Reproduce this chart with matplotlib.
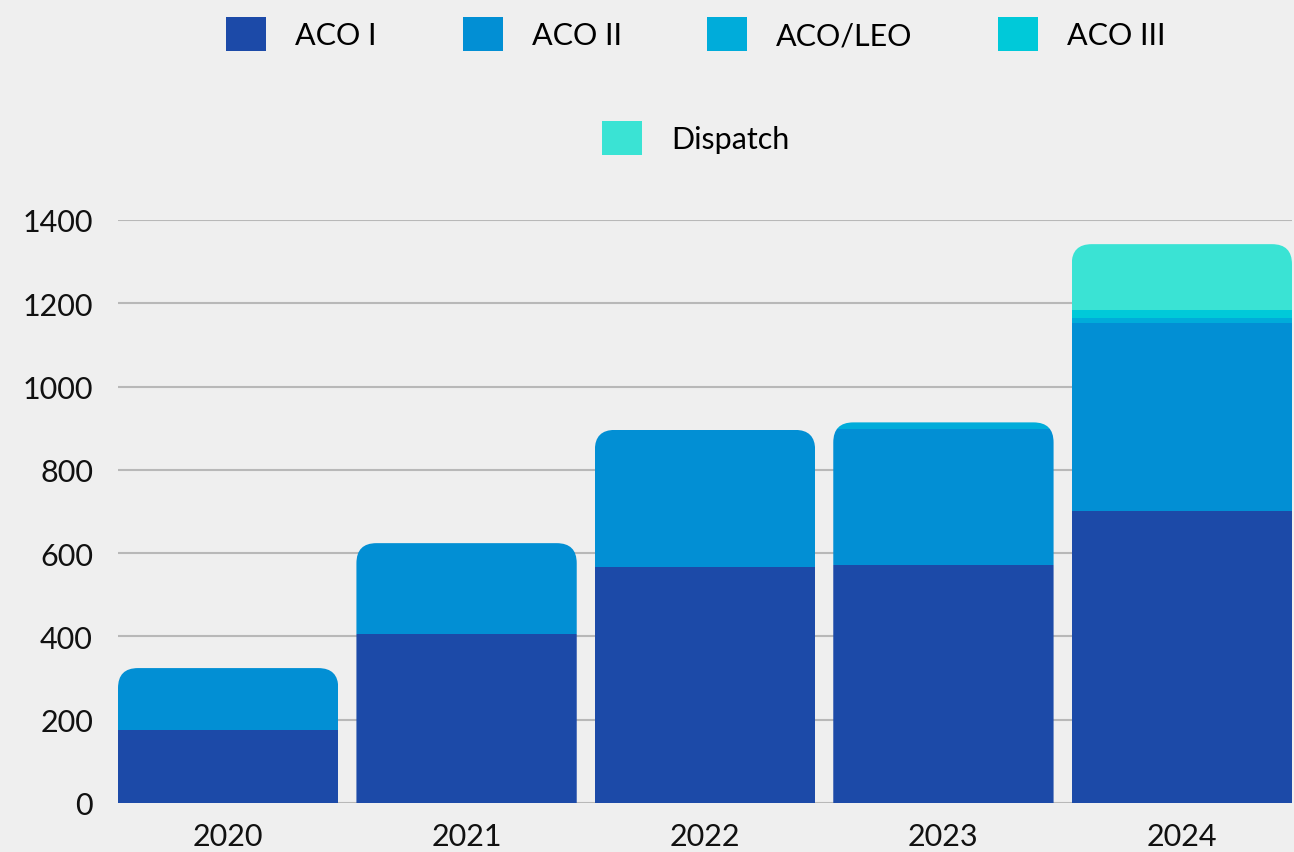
"""Stacked yearly bars per ACO program, rounded stack tops."""

import matplotlib
matplotlib.use("Agg")
import matplotlib.pyplot as plt
import numpy as np
from matplotlib.patches import FancyBboxPatch, Patch

years = ["2020", "2021", "2022", "2023", "2024"]
series_names = ["ACO I", "ACO II", "ACO/LEO", "ACO III", "Dispatch"]
aco_1 = [175, 406, 567, 571, 701]
aco_2 = [149, 218, 329, 328, 451]
aco_leo = [0, 0, 0, 15, 13]
aco_3 = [0, 0, 0, 0, 19]
dispatch = [0, 0, 0, 0, 158]
y_ticks = [0, 200, 400, 600, 800, 1000, 1200, 1400]

COLORS = ["#1c4aa8", "#028fd4", "#00acda", "#00c9d9", "#3ae3d4"]
BG = "#efefef"
FS = 22

plt.rcParams["font.family"] = ["Lato", "DejaVu Sans"]

W, H, DPI = 1294, 853, 100
fig = plt.figure(figsize=(W / DPI, H / DPI), dpi=DPI, facecolor=BG)
ax = fig.add_axes([118 / W, 1 - 804 / H, (1292 - 118) / W, (804 - 221) / H])
ax.set_facecolor(BG)

bar_w = 0.924
x = np.arange(len(years))
ax.set_xlim(-bar_w / 2, len(years) - 1 + bar_w / 2)
ax.set_ylim(0, 1400)

all_series = [aco_1, aco_2, aco_leo, aco_3, dispatch]
totals = np.sum(all_series, axis=0)

# aspect for rounded corners (data-y per data-x in screen terms)
fig.canvas.draw()
bbox = ax.get_window_extent()
x_per_px = (ax.get_xlim()[1] - ax.get_xlim()[0]) / bbox.width
y_per_px = (ax.get_ylim()[1] - ax.get_ylim()[0]) / bbox.height
aspect = y_per_px / x_per_px
radius = 20 * x_per_px

clips = []
for i in range(len(years)):
    clip = FancyBboxPatch((x[i] - bar_w / 2, -200), bar_w, totals[i] + 200,
                          boxstyle=f"round,pad=0,rounding_size={radius}",
                          mutation_aspect=aspect, transform=ax.transData)
    clips.append(clip)

bottom = np.zeros(len(years))
for vals, color in zip(all_series, COLORS):
    bars = ax.bar(x, vals, bar_w, bottom=bottom, color=color, linewidth=0)
    for b, clip in zip(bars, clips):
        b.set_clip_path(clip)
    bottom += np.array(vals)

ax.set_yticks(y_ticks)
ax.set_yticklabels([str(t) for t in y_ticks])
ax.set_xticks(x)
ax.set_xticklabels(years)
ax.tick_params(axis="y", length=0, pad=18, labelsize=FS, colors="#111111")
ax.tick_params(axis="x", length=0, pad=14, labelsize=FS, colors="#111111")
ax.grid(axis="y", color="#b8b8b8", linewidth=1.5)
ax.set_axisbelow(True)
for s in ax.spines.values():
    s.set_visible(False)

px = FS * DPI / 72  # font size in pixels
handles = [Patch(facecolor=c, edgecolor="none") for c in COLORS]
leg_kw = dict(frameon=False, fontsize=FS, handlelength=40 / px, handleheight=41 / px,
              handletextpad=29 / px, columnspacing=2.8, loc="center")
fig.legend(handles[:4], series_names[:4], ncol=4,
           bbox_to_anchor=(696 / W, 1 - 35 / H), **leg_kw)
fig.legend(handles[4:], series_names[4:], ncol=1,
           bbox_to_anchor=(696 / W, 1 - 139 / H), **leg_kw)

fig.savefig("out.png", dpi=DPI, facecolor=BG)
